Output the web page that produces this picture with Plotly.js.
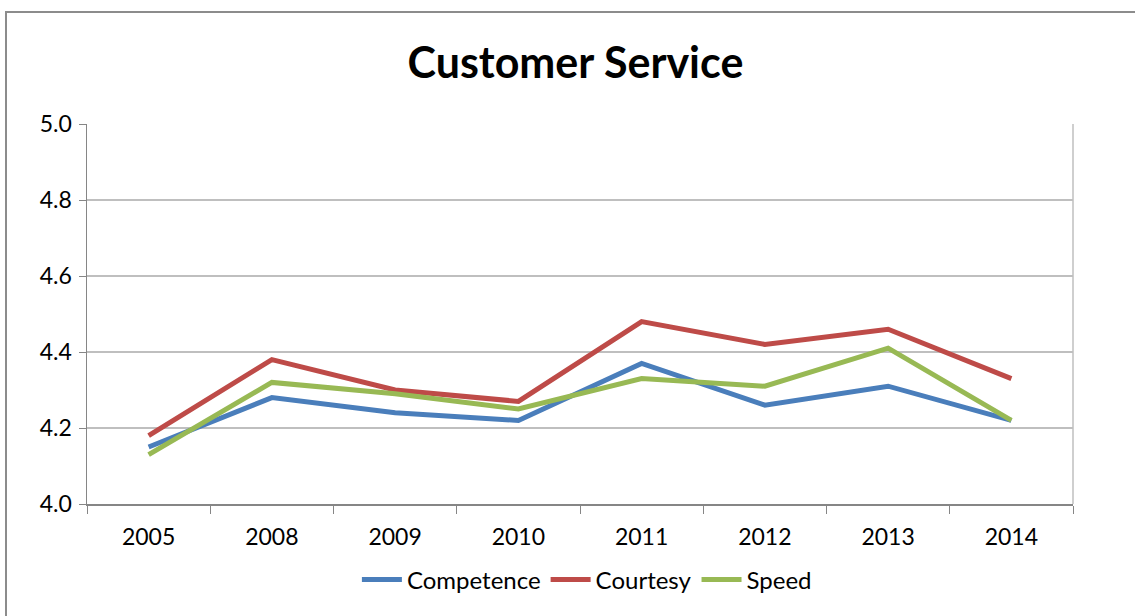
<!DOCTYPE html>
<html>
<head>
<meta charset="utf-8">
<script src="https://cdn.plot.ly/plotly-3.0.1.min.js"></script>
<style>
  html, body { margin: 0; padding: 0; background: #fff; }
  #chart { width: 1135px; height: 616px; position: relative; }
  #frame { position: absolute; left: 5px; top: 11px; width: 1140px; height: 620px;
           border-top: 2px solid #8c8c8c; border-left: 2px solid #8c8c8c; pointer-events: none; }
</style>
</head>
<body>
<div id="chart"></div>
<div id="frame"></div>
<script>
const years = ["2005", "2008", "2009", "2010", "2011", "2012", "2013", "2014"];
const competence = [4.15, 4.28, 4.24, 4.22, 4.37, 4.26, 4.31, 4.22];
const courtesy   = [4.18, 4.38, 4.30, 4.27, 4.48, 4.42, 4.46, 4.33];
const speed      = [4.13, 4.32, 4.29, 4.25, 4.33, 4.31, 4.41, 4.22];
const yTicks = [4.0, 4.2, 4.4, 4.6, 4.8, 5.0];

const font = "Lato, 'Open Sans', sans-serif";

const mk = (name, y, color) => ({
  type: "scatter", mode: "lines", name: name, x: years, y: y,
  line: { color: color, width: 5 }
});

const data = [
  mk("Competence", competence, "#4a7ebb"),
  mk("Courtesy", courtesy, "#be4b48"),
  mk("Speed", speed, "#98b954")
];

const layout = {
  width: 1135, height: 616,
  margin: { l: 87, r: 62, t: 124, b: 112 },
  paper_bgcolor: "#fff", plot_bgcolor: "#fff",
  font: { family: font, color: "#000", size: 22 },
  title: { text: "<b>Customer Service</b>", font: { family: font, size: 43, color: "#000" },
           x: 0.507, xanchor: "center", y: 0.897, yanchor: "middle" },
  showlegend: true,
  legend: { orientation: "h", x: 0.507, xanchor: "center", y: -0.2, yanchor: "middle",
            font: { family: font, size: 24 }, itemwidth: 40, tracegroupgap: 0 },
  xaxis: {
    type: "category", tickvals: years, ticktext: years, range: [-0.5, 7.5],
    tickson: "boundaries", ticks: "outside", ticklen: 8, tickcolor: "#868686", tickwidth: 1,
    showline: true, linecolor: "#868686", linewidth: 1.5,
    showgrid: false, zeroline: false, fixedrange: true,
    tickfont: { family: font, size: 23 }, ticklabelstandoff: 12
  },
  yaxis: {
    range: [4.0, 5.0], tickvals: yTicks, ticktext: yTicks.map(v => v.toFixed(1)),
    ticks: "outside", ticklen: 7, tickcolor: "#868686", tickwidth: 1,
    showline: true, linecolor: "#868686", linewidth: 1.5,
    showgrid: true, gridcolor: "#bfbfbf", gridwidth: 1.5, zeroline: false, fixedrange: true,
    tickfont: { family: font, size: 23 }, ticklabelstandoff: 2
  },
  shapes: [
    { type: "line", xref: "paper", yref: "paper", x0: 1, x1: 1, y0: 0, y1: 1,
      line: { color: "#bfbfbf", width: 1.5 }, layer: "below" }
  ]
};

Plotly.newPlot("chart", data, layout, { displayModeBar: false, staticPlot: true });
</script>
</body>
</html>
